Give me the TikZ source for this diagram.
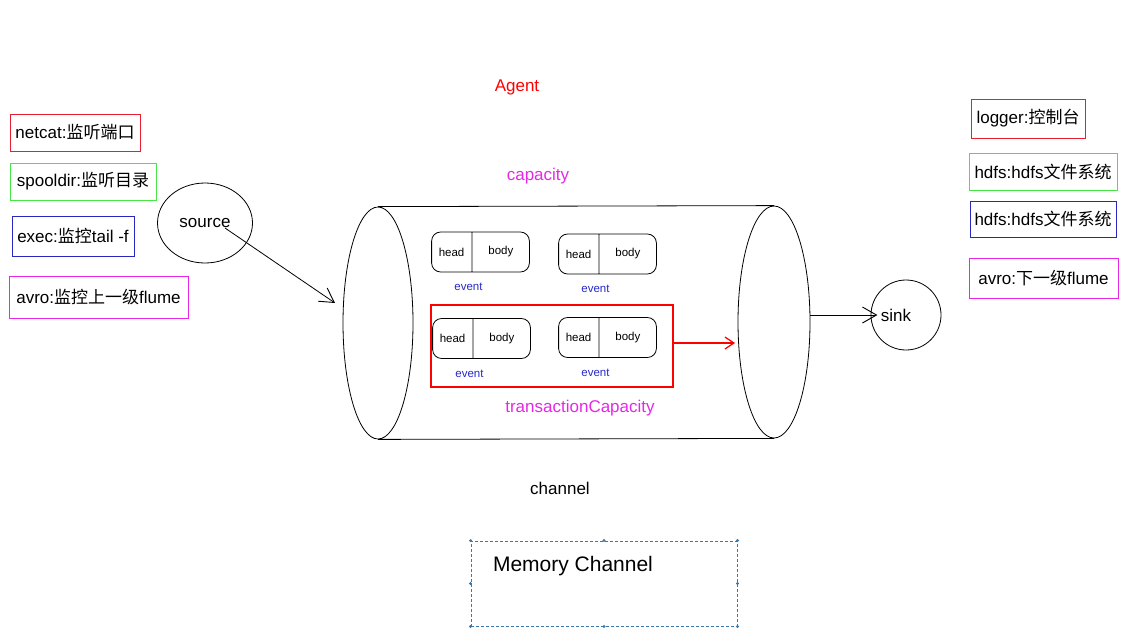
\documentclass[tikz,border=0pt]{standalone}
\usepackage{fontspec}
\setmainfont{Liberation Sans}
\newfontfamily\cjk{Noto Sans CJK SC}
\usetikzlibrary{arrows.meta,shapes.geometric,shapes.multipart,positioning}

\definecolor{boxred}{RGB}{230,30,50}
\definecolor{boxgreen}{RGB}{70,230,70}
\definecolor{boxblue}{RGB}{40,40,190}
\definecolor{boxpink}{RGB}{230,40,230}
\definecolor{evblue}{RGB}{40,40,200}
\definecolor{memblue}{RGB}{60,120,170}

\tikzset{
  big/.style={font=\fontsize{17pt}{20pt}\selectfont},
  kindbox/.style={draw=#1, line width=0.9pt, big, inner sep=0pt, text=black},
  eventbox/.style={draw, rectangle split, rectangle split horizontal,
    rectangle split parts=2, rounded corners=9pt, minimum height=40pt,
    inner xsep=0pt, line width=0.8pt, font=\fontsize{11.5pt}{13pt}\selectfont},
  evlabel/.style={text=evblue, font=\fontsize{11.5pt}{13pt}\selectfont},
  barb/.style={-{Straight Barb[length=14pt,width=16pt,line width=0.9pt]}, line width=0.8pt},
}

\newcommand\headbody{\makebox[40pt]{head}\nodepart{two}\makebox[57pt]{body}}

\begin{document}
\begin{tikzpicture}[x=1pt,y=-1pt]
\useasboundingbox (0,0) rectangle (1126,632);

% titles
\node[big, text=red] (agent) at (517,87) {Agent};
\node[big, text=boxpink] (cap) at (538,176) {capacity};
\node[big, text=boxpink] (tcap) at (580,408) {transactionCapacity};
\node[big] (chname) at (560,488) {channel};

% source types
\node[kindbox=boxred, minimum width=130pt, minimum height=37pt] (netcat) at (75,132.5) {netcat:{\cjk 监听端口}};
\node[kindbox=boxgreen, minimum width=146pt, minimum height=37pt] (spool) at (83,181.5) {spooldir:{\cjk 监听目录}};
\node[kindbox=boxblue, minimum width=122pt, minimum height=40pt] (exec) at (73,236) {exec:{\cjk 监控}tail -f};
\node[kindbox=boxpink, minimum width=179pt, minimum height=42pt] (avroin) at (98.5,297) {avro:{\cjk 监控上一级}flume};

% sink types
\node[kindbox=boxred, minimum width=114pt, minimum height=39pt] (logger) at (1028,118.5) {logger:{\cjk 控制台}};
\node[kindbox=boxgreen, minimum width=148pt, minimum height=37pt] (hdfsa) at (1043,171.5) {hdfs:hdfs{\cjk 文件系统}};
\node[kindbox=boxblue, minimum width=146pt, minimum height=36pt] (hdfsb) at (1043,219) {hdfs:hdfs{\cjk 文件系统}};
\node[kindbox=boxpink, minimum width=149pt, minimum height=40pt] (avroout) at (1043.5,278) {avro:{\cjk 下一级}flume};

% source
\node[draw, ellipse, minimum width=95pt, minimum height=80pt, line width=0.8pt, big] (source) at (205,223) {source};
\coordinate (srcout) at (225,228);
\coordinate (chin) at (335,303);
\draw[barb] (srcout) -- (chin);

% channel cylinder
\node[draw, ellipse, minimum width=70pt, minimum height=232pt, line width=0.8pt] (chl) at (378,323) {};
\node[draw, ellipse, minimum width=72pt, minimum height=232pt, line width=0.8pt] (chr) at (774,322) {};
\draw[line width=0.8pt] (chl.north) -- (chr.north);
\draw[line width=0.8pt] (chl.south) -- (chr.south);

% transaction
\coordinate (txnnw) at (431,305);
\coordinate (txnse) at (673,387);
\draw[red, line width=1.2pt] (txnnw) rectangle (txnse);
\coordinate (txnout) at (673,343);
\draw[red, -{Straight Barb[length=9pt,width=12pt,line width=1.2pt]}, line width=1.2pt] (txnout) -- ++(62,0);

% events
\node[eventbox] (e1) at (480.5,252) {\headbody};
\node[eventbox] (e2) at (607.5,254) {\headbody};
\node[eventbox] (e3) at (481.5,338.5) {\headbody};
\node[eventbox] (e4) at (607.5,337.5) {\headbody};
\node[evlabel, below=7.5pt of e1, xshift=-12pt] (ev1) {event};
\node[evlabel, below=7.5pt of e2, xshift=-12pt] (ev2) {event};
\node[evlabel, below=7.5pt of e3, xshift=-12pt] (ev3) {event};
\node[evlabel, below=7.5pt of e4, xshift=-12pt] (ev4) {event};

% sink
\node[draw, circle, minimum size=70pt, line width=0.8pt] (sink) at (906,315) {};
\node[big] (sinktext) at (896,315) {sink};
\draw[barb] (chr.east |- sinktext.west) -- (sinktext.west);

% memory channel
\node[draw=memblue, dash pattern=on 3pt off 2pt, line width=0.9pt, minimum width=266pt, minimum height=85pt] (mem) at (604,583.5) {};
\node[font=\fontsize{21pt}{24pt}\selectfont] (memtext) at (573,566) {Memory Channel};
\foreach \a in {north west,north,north east,east,south east,south,south west,west}
  \fill[memblue] (mem.\a) circle (1.6pt);
\end{tikzpicture}
\end{document}
